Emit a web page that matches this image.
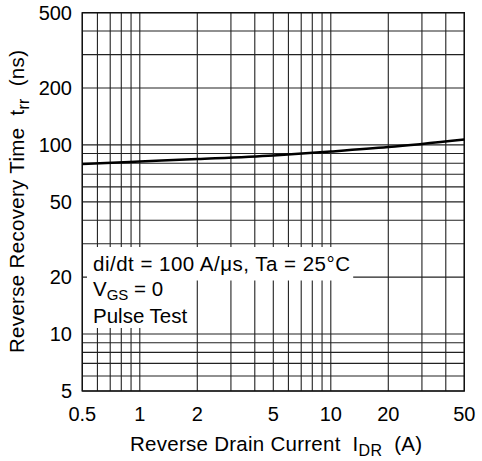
<!DOCTYPE html>
<html>
<head>
<meta charset="utf-8">
<script src="https://cdn.jsdelivr.net/npm/d3@7"></script>
<style>
  body { margin: 0; background: #fff; }
  svg { display: block; font-family: "Liberation Sans", Arial, sans-serif; }
  text { white-space: pre; }
</style>
</head>
<body>
<script>
const currentA = [0.5, 1, 2, 5, 10, 20, 50];
const trrNs = [79.2, 81.7, 84.2, 88.0, 92.3, 97.4, 106.9];
const xTickLabels = [0.5, 1, 2, 5, 10, 20, 50];
const yTickLabels = [5, 10, 20, 50, 100, 200, 500];
const noteLines = ["di/dt = 100 A/\u03bcs, Ta = 25\u00b0C", "VGS = 0", "Pulse Test"];

const width = 482,
  height = 461,
  margin = { left: 82.3, right: 17.7, top: 12.7, bottom: 70 };

const svg = d3
  .select("body")
  .append("svg")
  .attr("width", width)
  .attr("height", height);

const x = d3
  .scaleLog()
  .domain([0.5, 50])
  .range([margin.left, width - margin.right]);

const y = d3
  .scaleLog()
  .domain([5, 500])
  .range([height - margin.bottom, margin.top]);

// grid, one line per 1..9 step of each decade
const grid = svg.append("g").attr("stroke", "#222").attr("stroke-width", 1.1);

grid
  .selectAll(".vline")
  .data(x.ticks())
  .enter()
  .append("line")
  .attr("x1", d => x(d))
  .attr("x2", d => x(d))
  .attr("y1", y(5))
  .attr("y2", y(500));

grid
  .selectAll(".hline")
  .data(y.ticks())
  .enter()
  .append("line")
  .attr("x1", x(0.5))
  .attr("x2", x(50))
  .attr("y1", d => y(d))
  .attr("y2", d => y(d));

svg
  .append("rect")
  .attr("x", x(0.5))
  .attr("y", y(500))
  .attr("width", x(50) - x(0.5))
  .attr("height", y(5) - y(500))
  .attr("fill", "none")
  .attr("stroke", "#111")
  .attr("stroke-width", 1.4);

// conditions note, each line on its own white patch, patches touching
const note = svg.append("g").attr("font-size", 20.5);
const noteY = [271, 296, 323];
const patchY = [247, 280, 303, 327.5];

noteLines.forEach((line, i) => {
  const t = note.append("text").attr("x", 93).attr("y", noteY[i]);
  if (line.startsWith("VGS")) {
    t.append("tspan").text("V");
    t.append("tspan").attr("font-size", 15).attr("dy", 4).text("GS");
    t.append("tspan").attr("dy", -4).text(" = 0");
  } else {
    t.text(line);
  }
  if (i === 0) t.attr("textLength", 257).attr("lengthAdjust", "spacing");
  const b = t.node().getBBox();
  note
    .insert("rect", "text")
    .attr("x", 87)
    .attr("y", patchY[i])
    .attr("width", b.x + b.width - 87 + 3)
    .attr("height", patchY[i + 1] - patchY[i] + 0.5)
    .attr("fill", "#fff");
});

// curve
const line = d3
  .line()
  .x((d, i) => x(currentA[i]))
  .y(d => y(d))
  .curve(d3.curveMonotoneX);

svg
  .append("path")
  .datum(trrNs)
  .attr("d", line)
  .attr("fill", "none")
  .attr("stroke", "#000")
  .attr("stroke-width", 2.5);

// tick labels
svg
  .append("g")
  .attr("font-size", 20)
  .attr("text-anchor", "middle")
  .selectAll("text")
  .data(xTickLabels)
  .enter()
  .append("text")
  .attr("x", d => x(d))
  .attr("y", 421)
  .text(d => d);

svg
  .append("g")
  .attr("font-size", 20)
  .attr("text-anchor", "end")
  .selectAll("text")
  .data(yTickLabels)
  .enter()
  .append("text")
  .attr("x", 72)
  .attr("y", d => y(d) + 7)
  .text(d => d);

// axis titles
const xTitle = svg
  .append("text")
  .attr("font-size", 20.5)
  .attr("x", 130)
  .attr("y", 451)
  .attr("textLength", 292)
  .attr("lengthAdjust", "spacing");
xTitle.append("tspan").text("Reverse Drain Current  I");
xTitle.append("tspan").attr("font-size", 16).attr("dy", 5).text("DR");
xTitle.append("tspan").attr("dy", -5).text("  (A)");

const yTitle = svg
  .append("text")
  .attr("font-size", 20.5)
  .attr("transform", "translate(24,353) rotate(-90)")
  .attr("textLength", 303)
  .attr("lengthAdjust", "spacing");
yTitle.append("tspan").text("Reverse Recovery Time  t");
yTitle.append("tspan").attr("font-size", 16).attr("dy", 5).text("rr");
yTitle.append("tspan").attr("dy", -5).text("  (ns)");
</script>
</body>
</html>
